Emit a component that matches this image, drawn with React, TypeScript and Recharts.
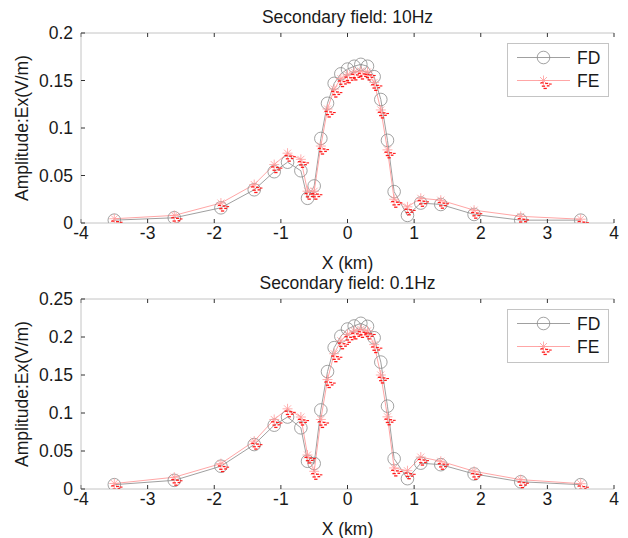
import React from 'react';
import { LineChart, Line, XAxis, YAxis, Legend, Label } from 'recharts';

const xKm = [-3.5, -2.6, -1.9, -1.4, -1.1, -0.9, -0.7, -0.6, -0.5, -0.4, -0.3, -0.2, -0.1, 0, 0.1, 0.2, 0.3, 0.4, 0.5, 0.6, 0.7, 0.9, 1.1, 1.4, 1.9, 2.6, 3.5];

const fd10Hz = [0.003, 0.0055, 0.016, 0.035, 0.054, 0.064, 0.055, 0.026, 0.039, 0.089, 0.126, 0.147, 0.157, 0.162, 0.165, 0.167, 0.165, 0.154, 0.13, 0.087, 0.033, 0.008, 0.021, 0.0195, 0.009, 0.003, 0.003];
const fe10Hz = [0.0045, 0.008, 0.021, 0.0405, 0.0615, 0.0735, 0.067, 0.0335, 0.0335, 0.081, 0.12, 0.141, 0.152, 0.156, 0.159, 0.16, 0.159, 0.148, 0.119, 0.077, 0.025, 0.017, 0.026, 0.024, 0.0135, 0.007, 0.004];

const fd01Hz = [0.0057, 0.0114, 0.03, 0.0585, 0.084, 0.0947, 0.0805, 0.0365, 0.0335, 0.104, 0.1545, 0.186, 0.201, 0.2105, 0.2145, 0.218, 0.214, 0.199, 0.167, 0.109, 0.0398, 0.0136, 0.034, 0.032, 0.0198, 0.0095, 0.0057];
const fe01Hz = [0.0072, 0.0155, 0.0334, 0.063, 0.0915, 0.1055, 0.0947, 0.0447, 0.0233, 0.0915, 0.144, 0.178, 0.195, 0.2035, 0.208, 0.21, 0.208, 0.19, 0.15, 0.095, 0.0277, 0.024, 0.042, 0.0365, 0.0233, 0.0123, 0.007];

const xTicks = [-4, -3, -2, -1, 0, 1, 2, 3, 4];
const yTicks10 = [0, 0.05, 0.1, 0.15, 0.2];
const yTicks01 = [0, 0.05, 0.1, 0.15, 0.2, 0.25];
const seriesNames = ['FD', 'FE'];
const titles = ['Secondary field: 10Hz', 'Secondary field: 0.1Hz'];
const xLabel = 'X (km)';
const yLabel = 'Amplitude:Ex(V/m)';

const FONT = '"Liberation Sans", Arial, Helvetica, sans-serif';
const FS = 17.5;
const TEXT = '#1a1a1a';
const FRAME = '#c4c4c4';
const TICK = '#333';
const FD_LINE = '#a0a0a0';
const FD_MARK = '#8a8a8a';
const FE_LINE = '#ffa6a6';
const FE_STAR = '#ff9a9a';
const FE_RED = '#ff1a1a';

const redBits = [
  [-3, 1.7, 3, 1.3],
  [1.7, 2.3, 3, 1.3],
  [5.5, 3, 2.7, 1.1],
  [-1.7, 5, 3.3, 1.3],
  [3.3, 4.7, 2.7, 1.3],
  [0, 7.3, 3.3, 1.3],
];

function FEMarker({ cx, cy }: { cx: number; cy: number }) {
  return (
    <g>
      <line x1={cx - 5} x2={cx + 5} y1={cy} y2={cy} stroke={FE_STAR} strokeWidth={0.8} />
      <line x1={cx} x2={cx} y1={cy - 5} y2={cy + 5} stroke={FE_STAR} strokeWidth={0.8} />
      <line x1={cx - 3.5} x2={cx + 3.5} y1={cy - 3.5} y2={cy + 3.5} stroke={FE_STAR} strokeWidth={0.8} />
      <line x1={cx - 3.5} x2={cx + 3.5} y1={cy + 3.5} y2={cy - 3.5} stroke={FE_STAR} strokeWidth={0.8} />
      {redBits.map((b, i) => (
        <rect key={i} x={cx + b[0]} y={cy + b[1]} width={b[2]} height={b[3]} fill={FE_RED} />
      ))}
    </g>
  );
}

const FDDot = (props: any) => {
  const { cx, cy, index } = props;
  if (cx == null || cy == null) return <g key={`fd-${index}`} />;
  return <circle key={`fd-${index}`} cx={cx} cy={cy} r={6.3} fill="none" stroke={FD_MARK} strokeWidth={0.8} />;
};

const FEDot = (props: any) => {
  const { cx, cy, index } = props;
  if (cx == null || cy == null) return <g key={`fe-${index}`} />;
  return (
    <g key={`fe-${index}`}>
      <FEMarker cx={cx} cy={cy} />
    </g>
  );
};

const LegendBox = () => (
  <svg width={102} height={54} style={{ display: 'block', overflow: 'visible' }}>
    <rect x={0.5} y={0.5} width={101} height={53} fill="#fff" stroke={FRAME} />
    <line x1={10} x2={63} y1={14.5} y2={14.5} stroke={FD_LINE} />
    <circle cx={36.5} cy={14.5} r={6.3} fill="none" stroke={FD_MARK} strokeWidth={0.8} />
    <text x={70} y={14.5} dominantBaseline="central" fontSize={FS} fontFamily={FONT} fill={TEXT}>
      {seriesNames[0]}
    </text>
    <line x1={10} x2={63} y1={37.5} y2={37.5} stroke={FE_LINE} />
    <FEMarker cx={36.5} cy={37.5} />
    <text x={70} y={37.5} dominantBaseline="central" fontSize={FS} fontFamily={FONT} fill={TEXT}>
      {seriesNames[1]}
    </text>
  </svg>
);

const noTick = () => <g />;

function Panel({ top, title, fd, fe, yMax, yTicks }: any) {
  const data = xKm.map((x, i) => ({ x, FD: fd[i], FE: fe[i] }));
  const tickStyle = { fontSize: FS, fill: TEXT, fontFamily: FONT };
  return (
    <div style={{ position: 'absolute', left: 0, top, width: 628, height: 280 }}>
      <LineChart width={628} height={280} data={data} margin={{ top: 28, right: 14, bottom: 32, left: 0 }}>
        <XAxis
          xAxisId="top"
          orientation="top"
          dataKey="x"
          type="number"
          domain={[-4, 4]}
          ticks={xTicks}
          height={5}
          tickSize={-4}
          tick={noTick}
          axisLine={{ stroke: FRAME }}
          tickLine={{ stroke: TICK }}
          allowDataOverflow
        >
          <Label value={title} position="top" offset={5.5} style={{ fontSize: FS, fill: TEXT, fontFamily: FONT }} />
        </XAxis>
        <XAxis
          dataKey="x"
          type="number"
          domain={[-4, 4]}
          ticks={xTicks}
          height={25}
          tickSize={-4}
          tickMargin={8}
          tick={tickStyle}
          axisLine={{ stroke: FRAME }}
          tickLine={{ stroke: TICK }}
          allowDataOverflow
        >
          <Label value={xLabel} position="bottom" offset={9} style={{ fontSize: FS, fill: TEXT, fontFamily: FONT }} />
        </XAxis>
        <YAxis
          type="number"
          domain={[0, yMax]}
          ticks={yTicks}
          width={81}
          tickSize={-4}
          tickMargin={12}
          tick={tickStyle}
          axisLine={{ stroke: FRAME }}
          tickLine={{ stroke: TICK }}
          allowDataOverflow
        >
          <Label
            value={yLabel}
            angle={-90}
            position="insideLeft"
            offset={22}
            style={{ fontSize: FS, fill: TEXT, fontFamily: FONT, textAnchor: 'middle' }}
          />
        </YAxis>
        <YAxis
          yAxisId="right"
          orientation="right"
          type="number"
          domain={[0, yMax]}
          ticks={yTicks}
          width={0}
          tickSize={-4}
          tick={noTick}
          axisLine={{ stroke: FRAME }}
          tickLine={{ stroke: TICK }}
          allowDataOverflow
        />
        <Line
          type="linear"
          dataKey="FD"
          name={seriesNames[0]}
          stroke={FD_LINE}
          strokeWidth={1}
          dot={FDDot}
          activeDot={false}
          isAnimationActive={false}
        />
        <Line
          type="linear"
          dataKey="FE"
          name={seriesNames[1]}
          stroke={FE_LINE}
          strokeWidth={1}
          dot={FEDot}
          activeDot={false}
          isAnimationActive={false}
        />
        <Legend
          layout="vertical"
          align="center"
          verticalAlign="middle"
          wrapperStyle={{ left: 507, top: 43, width: 102, height: 54 }}
          content={LegendBox}
        />
      </LineChart>
    </div>
  );
}

export default function App() {
  return (
    <div
      style={{
        position: 'absolute',
        left: 0,
        top: 0,
        width: 628,
        height: 538,
        background: '#fff',
        overflow: 'hidden',
        fontFamily: FONT,
      }}
    >
      <Panel top={0} title={titles[0]} fd={fd10Hz} fe={fe10Hz} yMax={0.2} yTicks={yTicks10} />
      <Panel top={266} title={titles[1]} fd={fd01Hz} fe={fe01Hz} yMax={0.25} yTicks={yTicks01} />
    </div>
  );
}
